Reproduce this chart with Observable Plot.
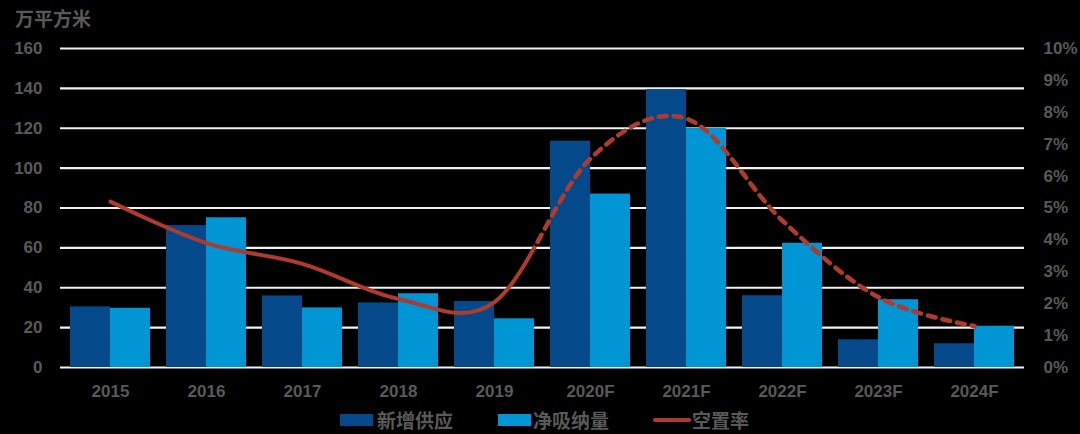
<!DOCTYPE html>
<html>
<head>
<meta charset="utf-8">
<script src="https://cdn.jsdelivr.net/npm/d3@7"></script>
<script src="https://cdn.jsdelivr.net/npm/@observablehq/plot@0.6"></script>
<style>
  html, body { margin: 0; padding: 0; background: #000; }
  body { width: 1080px; height: 434px; overflow: hidden; font-family: "Liberation Sans", "Noto Sans CJK SC", sans-serif; color: #595959; }
  #title { height: 30px; box-sizing: border-box; padding: 5px 0 0 15px; font: bold 19px "Noto Sans CJK SC", sans-serif; line-height: 25px; color: #595959; }
  #legend { position: relative; height: 29px; font: bold 19px "Noto Sans CJK SC", sans-serif; color: #595959; }
  #legend .sw { position: absolute; top: 9px; height: 12px; }
  #legend .ln { position: absolute; top: 13px; height: 4px; border-radius: 2px; }
  #legend .tx { position: absolute; top: 0; line-height: 29px; white-space: nowrap; }
</style>
</head>
<body>
<div id="title">万平方米</div>
<div id="chart"></div>
<div id="legend"></div>
<script>
// ---- data ----
const years = ["2015", "2016", "2017", "2018", "2019", "2020F", "2021F", "2022F", "2023F", "2024F"];
const supply = [30.4, 71.2, 35.9, 32.4, 33.1, 113.5, 139.4, 36.0, 13.9, 11.9];     // 新增供应
const absorption = [29.7, 75.1, 29.9, 37.0, 24.4, 87.0, 120.0, 62.3, 34.0, 20.7]; // 净吸纳量
const vacancy = [5.2, 3.9, 3.25, 2.15, 2.05, 6.55, 7.8, 4.6, 2.2, 1.3];          // 空置率 (%)
const leftTicks = [0, 20, 40, 60, 80, 100, 120, 140, 160];
const rightTicks = [0, 1, 2, 3, 4, 5, 6, 7, 8, 9, 10]; // %
const seriesNames = ["新增供应", "净吸纳量", "空置率"];

// ---- styles ----
const cDark = "#044a8a";
const cLight = "#0095d4";
const cLine = "#b03a2c";
const cText = "#595959";

const rows = years.map((y, i) => ({year: y, supply: supply[i], absorption: absorption[i], vacancy: vacancy[i]}));
const pctToLeft = 160 / 10;

const W = 1080, H = 375, mL = 60, mR = 56, mT = 18, mB = 38;
const padIn = 0.17, padOut = 0.085;
const step = (W - mL - mR) / (years.length - padIn + 2 * padOut);
const bw = step * (1 - padIn);

const plot = Plot.plot({
  width: W,
  height: H,
  marginLeft: mL,
  marginRight: mR,
  marginTop: mT,
  marginBottom: mB,
  style: {background: "#000", color: cText, fontSize: "17px", fontWeight: "bold", fontFamily: "'Liberation Sans', 'Noto Sans CJK SC', sans-serif"},
  x: {domain: years, paddingInner: padIn, paddingOuter: padOut, axis: null},
  y: {domain: [0, 160], axis: null},
  marks: [
    Plot.ruleY(leftTicks, {stroke: "#f2f2f2", strokeWidth: 2.2}),
    Plot.barY(rows, {x: "year", y: "supply", fill: cDark, insetRight: bw / 2}),
    Plot.barY(rows, {x: "year", y: "absorption", fill: cLight, insetLeft: bw / 2}),
    Plot.line(rows, {x: "year", y: d => d.vacancy * pctToLeft, curve: "cardinal", stroke: cLine, strokeWidth: 4, strokeLinecap: "round", strokeLinejoin: "round"}),
    Plot.line(rows, {x: "year", y: d => d.vacancy * pctToLeft, curve: "cardinal", stroke: cLine, strokeWidth: 4.5, strokeDasharray: "8,7", strokeLinecap: "round"}),
    Plot.axisX({tickSize: 0, tickPadding: 17, label: null, fill: cText}),
    Plot.axisY(leftTicks, {anchor: "left", tickSize: 0, tickPadding: 18, label: null, fill: cText}),
    Plot.axisY(rightTicks.map(p => p * pctToLeft), {anchor: "right", tickSize: 0, tickPadding: 19, label: null, fill: cText, textAnchor: "start", tickFormat: d => Math.round(d / pctToLeft) + "%"})
  ]
});
document.getElementById("chart").appendChild(plot);

// solid before 2019, dashed after: clip the two renderings of the same smoothed line
const svg = plot.tagName.toLowerCase() === "svg" ? plot : plot.querySelector("svg");
const xs = plot.scale("x");
const cx = xs.apply("2019") + xs.bandwidth / 2;
const ns = "http://www.w3.org/2000/svg";
const defs = document.createElementNS(ns, "defs");
function clip(id, x0, x1) {
  const cp = document.createElementNS(ns, "clipPath");
  cp.setAttribute("id", id);
  const r = document.createElementNS(ns, "rect");
  r.setAttribute("x", x0); r.setAttribute("y", 0);
  r.setAttribute("width", x1 - x0); r.setAttribute("height", H);
  cp.appendChild(r); defs.appendChild(cp);
}
clip("clipSolid", 0, cx);
clip("clipDash", cx, W);
svg.insertBefore(defs, svg.firstChild);
const lines = svg.querySelectorAll("g[aria-label='line']");
if (lines.length >= 2) {
  lines[0].setAttribute("clip-path", "url(#clipSolid)");
  lines[1].setAttribute("clip-path", "url(#clipDash)");
}

// legend
const lg = document.getElementById("legend");
const items = [
  {kind: "sw", color: cDark, x: 340, w: 33, tx: 377},
  {kind: "sw", color: cLight, x: 498, w: 33, tx: 533},
  {kind: "ln", color: cLine, x: 653, w: 38, tx: 692}
];
items.forEach((it, i) => {
  const s = document.createElement("div");
  s.className = it.kind;
  s.style.left = it.x + "px"; s.style.width = it.w + "px"; s.style.background = it.color;
  lg.appendChild(s);
  const t = document.createElement("div");
  t.className = "tx"; t.style.left = it.tx + "px"; t.textContent = seriesNames[i];
  lg.appendChild(t);
});
</script>
</body>
</html>
